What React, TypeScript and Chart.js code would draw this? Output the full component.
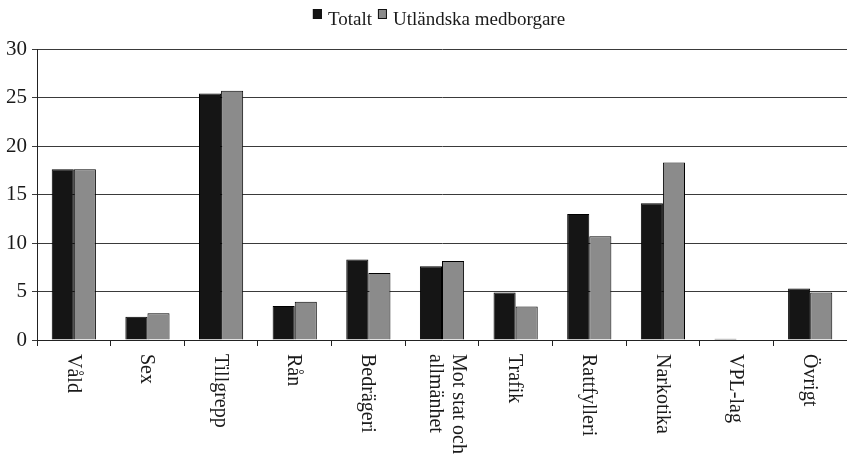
import React, { useEffect, useRef } from "react";
import { Chart, registerables } from "chart.js";

Chart.register(...registerables);

const categories: string[][] = [
  ["Våld"],
  ["Sex"],
  ["Tillgrepp"],
  ["Rån"],
  ["Bedrägeri"],
  ["Mot stat och", "allmänhet"],
  ["Trafik"],
  ["Rattfylleri"],
  ["Narkotika"],
  ["VPL-lag"],
  ["Övrigt"],
];
const totalt = [17.6, 2.4, 25.4, 3.5, 8.3, 7.6, 4.9, 13.0, 14.1, 0.12, 5.3];
const utlandska = [17.6, 2.75, 25.7, 3.95, 6.9, 8.15, 3.45, 10.7, 18.3, 0, 4.9];
const seriesNames = ["Totalt", "Utländska medborgare"];
const seriesColors = ["#151515", "#8b8b8b"];
const yTicks = [0, 5, 10, 15, 20, 25, 30];

const FONT = '"Liberation Serif", "Times New Roman", serif';

const customPlugin = {
  id: "customDraw",
  afterDraw(chart: any) {
    const ctx = chart.ctx as CanvasRenderingContext2D;
    const xs = chart.scales.x;
    // x labels rotated clockwise
    ctx.save();
    ctx.fillStyle = "#1a1a1a";
    ctx.font = `20px ${FONT}`;
    categories.forEach((lines, i) => {
      const cx = xs.getPixelForValue(i);
      const lh = 23;
      const n = lines.length;
      const shift = n > 1 ? 5 : -1;
      lines.forEach((line, j) => {
        const off = (j - (n - 1) / 2) * lh;
        ctx.save();
        ctx.translate(cx + shift - off, chart.chartArea.bottom + 14);
        ctx.rotate(Math.PI / 2);
        ctx.textAlign = "left";
        ctx.textBaseline = "middle";
        ctx.fillText(line, 0, 0);
        ctx.restore();
      });
    });
    ctx.restore();

    // legend
    ctx.save();
    ctx.font = `19px ${FONT}`;
    ctx.textBaseline = "alphabetic";
    ctx.textAlign = "left";
    const item1 = ctx.measureText(seriesNames[0]).width;
    const item2 = ctx.measureText(seriesNames[1]).width;
    const boxW = 9;
    const gapBT = 6;
    const gapItems = 6;
    const total = boxW + gapBT + item1 + gapItems + boxW + gapBT + item2;
    let x = 310 + (258 - total) / 2;
    const baseline = 25;
    [0, 1].forEach((k) => {
      ctx.fillStyle = seriesColors[k];
      ctx.fillRect(x, 9, boxW, 10);
      ctx.strokeStyle = "#111";
      ctx.lineWidth = 1;
      ctx.strokeRect(x + 0.5, 9.5, boxW - 1, 9);
      x += boxW + gapBT;
      ctx.fillStyle = "#1a1a1a";
      ctx.fillText(seriesNames[k], x, baseline);
      x += (k === 0 ? item1 : item2) + gapItems;
    });
    ctx.restore();
  },
};

export default function App() {
  const ref = useRef<HTMLCanvasElement>(null);
  useEffect(() => {
    document.body.style.margin = "0";
    const chart = new Chart(ref.current as HTMLCanvasElement, {
      type: "bar",
      data: {
        labels: categories.map((c) => c.join(" ")),
        datasets: [
          {
            label: seriesNames[0],
            data: totalt,
            backgroundColor: seriesColors[0],
            borderColor: "#000",
            borderWidth: 1,
            barPercentage: 1,
            categoryPercentage: 0.6,
          },
          {
            label: seriesNames[1],
            data: utlandska,
            backgroundColor: seriesColors[1],
            borderColor: "#000",
            borderWidth: 1,
            barPercentage: 1,
            categoryPercentage: 0.6,
          },
        ],
      },
      options: {
        responsive: false,
        animation: false,
        layout: { padding: { top: 49, left: 0, right: 0, bottom: 0 } },
        plugins: {
          legend: { display: false },
          tooltip: { enabled: false },
        },
        scales: {
          x: {
            grid: {
              offset: true,
              drawOnChartArea: false,
              drawTicks: true,
              tickLength: 6,
              color: "#222",
            },
            border: { display: true, color: "#222", width: 1 },
            ticks: { display: false },
            afterFit(scale: any) {
              scale.height = 121;
            },
          },
          y: {
            min: 0,
            max: 30,
            afterBuildTicks(scale: any) {
              scale.ticks = yTicks.map((v) => ({ value: v }));
            },
            grid: {
              color: "#3a3a3a",
              lineWidth: 1,
              tickLength: 5,
            },
            border: { display: true, color: "#222", width: 1 },
            ticks: {
              color: "#1a1a1a",
              font: { family: FONT, size: 21 },
              padding: 5,
            },
            afterFit(scale: any) {
              scale.width = 37;
            },
          },
        },
      },
      plugins: [customPlugin],
    });
    return () => chart.destroy();
  }, []);
  return (
    <div style={{ width: 847, height: 461 }}>
      <canvas ref={ref} width={847} height={461} style={{ display: "block" }} />
    </div>
  );
}
